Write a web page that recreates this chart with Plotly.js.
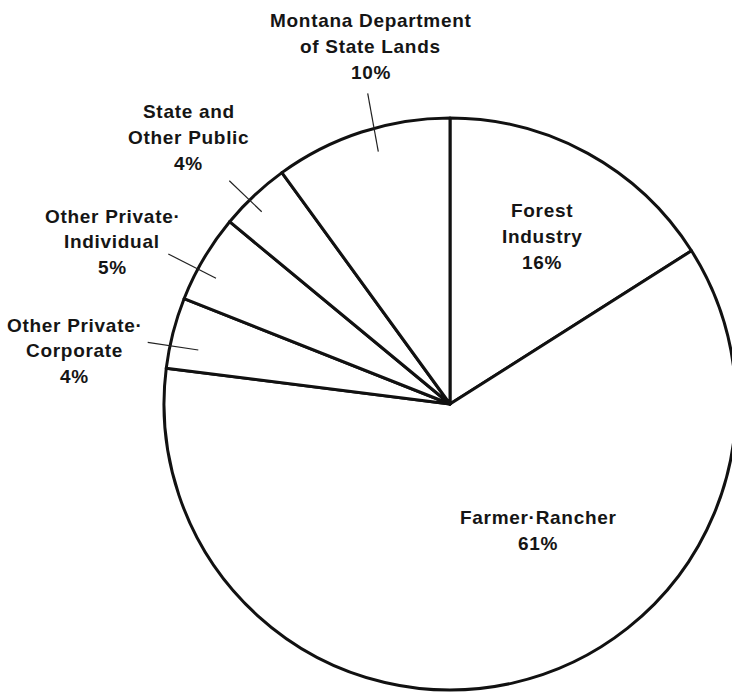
<!DOCTYPE html>
<html><head><meta charset="utf-8">
<script src="https://cdn.plot.ly/plotly-3.0.1.min.js"></script>
<style>
html,body{margin:0;padding:0;overflow:hidden;background:#fff}
#chart{width:740px;height:693px}
text.annotation-text{letter-spacing:0.7px}
</style>
</head><body><div id="chart"></div>
<script>
// ---- data ----
const categories = ["Forest Industry", "Farmer-Rancher", "Other Private-Corporate",
  "Other Private-Individual", "State and Other Public", "Montana Department of State Lands"];
const shares = [16, 61, 4, 5, 4, 10];
const labelLines = [["Forest", "Industry"], ["Farmer·Rancher"], ["Other Private·", "Corporate"],
  ["Other Private·", "Individual"], ["State and", "Other Public"], ["Montana Department", "of State Lands"]];

// ---- layout (pixels) ----
const W = 740, H = 693;
const cx = 450, cy = 404, R = 286;
const labelX = [542, 538, 74.5, 112, 188.8, 370.5];
const labelY0 = [210.7, 517.3, 325, 216, 111.7, 21];
const lineGap = 25.8;
const leaders = [null, null, [147.7, 342.3, 198.3, 350], [168.3, 254, 216, 278.3],
  [229.3, 180.7, 261.7, 211.7], [367.7, 93.3, 378.3, 151.7]];

const px = x => x / W, py = y => 1 - y / H;
const font = {family: "Liberation Sans, Arial, sans-serif", size: 19, color: "#151515", weight: "bold"};

const annotations = [];
const shapes = [];
categories.forEach((c, i) => {
  const lines = labelLines[i].concat([shares[i] + "%"]);
  lines.forEach((t, k) => {
    annotations.push({xref: "paper", yref: "paper", x: px(labelX[i]), y: py(labelY0[i] + k * lineGap),
      text: t, showarrow: false, xanchor: "center", yanchor: "middle", font: font});
  });
  const L = leaders[i];
  if (L) shapes.push({type: "line", xref: "paper", yref: "paper", x0: px(L[0]), y0: py(L[1]),
    x1: px(L[2]), y1: py(L[3]), line: {color: "#222", width: 1.2}});
});

const trace = {
  type: "pie", labels: categories, values: shares, sort: false, direction: "clockwise",
  rotation: 0, textinfo: "none", hoverinfo: "skip", showlegend: false,
  marker: {colors: categories.map(() => "#ffffff"), line: {color: "#111", width: 3}},
  domain: {x: [px(cx - R), px(cx + R)], y: [py(cy + R), py(cy - R)]}
};

Plotly.newPlot("chart", [trace], {
  width: W, height: H, margin: {l: 0, r: 0, t: 0, b: 0},
  paper_bgcolor: "#fff", plot_bgcolor: "#fff",
  annotations: annotations, shapes: shapes
}, {staticPlot: true});
</script>
</body></html>
